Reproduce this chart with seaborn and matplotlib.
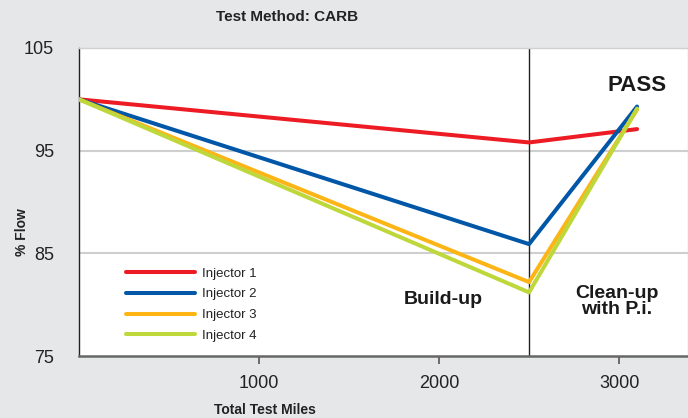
import numpy as np
import pandas as pd
import seaborn as sns
import matplotlib.pyplot as plt
from matplotlib.lines import Line2D

# Data
miles = [0, 2500, 3100]
injector_1 = [100.0, 95.8, 97.1]
injector_2 = [100.0, 85.9, 99.3]
injector_3 = [100.0, 82.2, 99.0]
injector_4 = [100.0, 81.2, 99.1]
names = ['Injector 1', 'Injector 2', 'Injector 3', 'Injector 4']
colors = ['#ed1c24', '#0057a8', '#fdb515', '#bed73b']

df = pd.DataFrame({
    'miles': miles * 4,
    'flow': injector_1 + injector_2 + injector_3 + injector_4,
    'injector': [n for n in names for _ in miles],
})

sns.set_style('white')
plt.rcParams['font.family'] = ['Liberation Sans Narrow', 'Liberation Sans', 'DejaVu Sans']

bg = '#e6e7e9'
fig = plt.figure(figsize=(6.88, 4.18), dpi=100, facecolor=bg)
ax = fig.add_axes([79 / 688, 1 - 356 / 418, 1 - 79 / 688, (356 - 48) / 418])
ax.set_facecolor('white')

# grid lines and phase separator
for y in [85, 95]:
    ax.axhline(y, color='#cfcfcf', lw=1.5, zorder=1)
ax.axvline(2500, color='#222222', lw=1, zorder=1)

sns.lineplot(data=df, x='miles', y='flow', hue='injector', palette=colors,
             linewidth=2.9, ax=ax, legend=False, zorder=3)

ax.set_xlim(0, 3383)
ax.set_ylim(75, 105)
ax.set_xticks([1000, 2000, 3000])
ax.set_yticks([75, 85, 95, 105])
ax.tick_params(axis='x', direction='out', length=6, width=1.2, color='#555555',
               pad=8, labelsize=13, labelcolor='#222222')
ax.tick_params(axis='y', length=0, pad=18, labelsize=13, labelcolor='#222222')
ax.tick_params(bottom=True, left=False)

for s in ['top', 'right']:
    ax.spines[s].set_color('#d0d0d0')
    ax.spines[s].set_linewidth(1)
ax.spines['left'].set_color('#222222')
ax.spines['left'].set_linewidth(1)
ax.spines['bottom'].set_color('#666666')
ax.spines['bottom'].set_linewidth(1.8)

ax.set_xlabel('')
ax.set_ylabel('')
fig.text(265 / 688, 1 - 410 / 418, 'Total Test Miles', ha='center', va='center',
         fontsize=10, fontweight='bold', color='#222222')
fig.text(22 / 688, 1 - 232 / 418, '% Flow', ha='center', va='center', rotation=90,
         fontsize=10, fontweight='bold', color='#222222')
fig.text(287 / 688, 1 - 17 / 418, 'Test Method: CARB', ha='center', va='center',
         fontsize=11, fontweight='bold', color='#222222')

# annotations
bold_fam = ['Liberation Sans', 'DejaVu Sans']
ax.text(2022, 80.5, 'Build-up', ha='center', va='center', fontsize=14,
        fontweight='heavy', family=bold_fam, color='#1a1a1a')
ax.text(2989, 80.3, 'Clean-up\nwith P.i.', ha='center', va='center', fontsize=14,
        fontweight='heavy', family=bold_fam, color='#1a1a1a', linespacing=0.9)
ax.text(3100, 101.3, 'PASS', ha='center', va='center', fontsize=16,
        fontweight='heavy', family=bold_fam, color='#1a1a1a')

handles = [Line2D([0], [0], color=c, lw=2.9) for c in colors]
leg = ax.legend(handles, names, loc='upper left', bbox_to_anchor=(0.069, 0.305),
                frameon=False, fontsize=9.5, handlelength=5.2, handletextpad=0.5,
                labelspacing=0.65, borderaxespad=0)
for t in leg.get_texts():
    t.set_family(bold_fam)
    t.set_color('#222222')

fig.savefig('out.png', dpi=100, facecolor=bg)
